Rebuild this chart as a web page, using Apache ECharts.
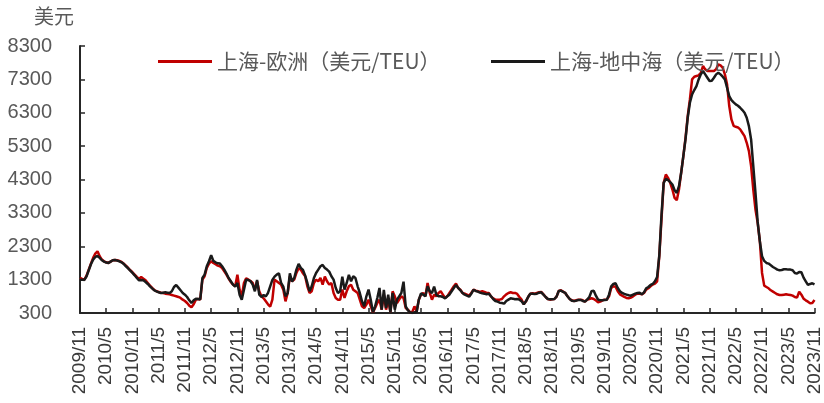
<!DOCTYPE html>
<html>
<head>
<meta charset="utf-8">
<script src="https://cdn.jsdelivr.net/npm/echarts@6/dist/echarts.min.js"></script>
<style>
  html, body { margin: 0; padding: 0; background: #fff; }
  #chart { width: 824px; height: 403px; }
</style>
</head>
<body>
<div id="chart"></div>
<script>
// Freight rates sampled every half month, starting 2009/11 (step = 0.5 month)
const STEP_MONTHS = 0.5;

const tickLabels = [
  '2009/11', '2010/5', '2010/11', '2011/5', '2011/11', '2012/5', '2012/11',
  '2013/5', '2013/11', '2014/5', '2014/11', '2015/5', '2015/11', '2016/5',
  '2016/11', '2017/5', '2017/11', '2018/5', '2018/11', '2019/5', '2019/11',
  '2020/5', '2020/11', '2021/5', '2021/11', '2022/5', '2022/11', '2023/5', '2023/11'
];

const seriesNames = ['上海-欧洲（美元/TEU）', '上海-地中海（美元/TEU）'];

// 上海-欧洲 (USD/TEU)
const shanghaiEurope = [
  1350,1320,1300,1420,1600,1780,1950,2080,2150,2000,1900,1850,
  1820,1800,1840,1880,1890,1880,1860,1830,1780,1720,1650,1580,
  1520,1450,1380,1320,1380,1330,1280,1200,1120,1050,990,950,
  930,910,900,880,870,860,840,820,800,780,750,700,
  660,600,520,470,560,700,720,700,1300,1400,1650,1780,
  1850,1800,1760,1720,1700,1650,1550,1450,1330,1230,1150,1100,
  1450,1000,800,1200,1340,1300,1260,1200,1000,1250,950,800,
  740,650,560,490,700,1300,1250,1200,1150,1000,650,900,
  1400,1250,1300,1500,1640,1600,1490,1400,1100,900,950,1200,
  1300,1250,1350,1150,1390,1250,1150,1200,900,750,700,700,
  1000,750,950,1100,1150,1000,950,900,700,500,450,550,
  700,500,320,450,600,700,400,850,400,700,330,950,
  800,600,700,800,750,450,400,320,330,500,350,700,
  850,900,800,1200,900,700,850,800,900,950,850,750,
  800,900,1000,1100,1180,1050,1000,900,880,850,820,900,
  1000,970,950,930,950,930,900,900,800,740,700,700,
  700,720,800,860,900,920,900,900,870,780,700,560,
  650,780,880,890,880,900,920,930,860,780,720,700,
  710,720,790,960,980,940,900,800,720,680,660,680,
  700,700,680,640,700,720,740,720,680,620,640,680,
  700,700,800,1050,1100,1090,950,860,820,780,750,740,
  760,800,850,880,880,860,900,1000,1040,1100,1150,1180,
  1250,2000,3100,4200,4450,4350,4200,4000,3750,3680,4000,4500,
  5000,5550,6200,6700,7300,7380,7400,7420,7500,7700,7600,7550,
  7550,7550,7550,7600,7750,7720,7650,7450,7150,6500,6100,5910,
  5880,5860,5800,5700,5600,5400,5150,4700,4000,3400,3000,2450,
  1500,1120,1080,1040,980,940,900,860,840,840,850,860,
  850,840,820,780,760,940,850,730,680,640,590,600,
  690
];

// 上海-地中海 (USD/TEU)
const shanghaiMed = [
  1300,1300,1290,1400,1580,1760,1900,1980,2010,1950,1880,1840,
  1810,1800,1840,1880,1890,1870,1850,1820,1770,1700,1640,1570,
  1500,1430,1350,1280,1290,1280,1230,1170,1100,1040,980,950,
  920,900,910,920,910,900,950,1080,1140,1060,980,900,
  850,780,680,600,680,730,720,710,1350,1450,1700,1850,
  2030,1860,1820,1790,1780,1700,1600,1480,1350,1250,1150,1090,
  1200,850,700,1000,1300,1290,1250,1150,950,1290,850,780,
  840,800,900,1100,1290,1390,1450,1490,1200,1090,800,900,
  1490,1240,1350,1600,1770,1650,1590,1420,1200,950,1100,1350,
  1500,1600,1700,1740,1650,1600,1540,1400,1300,1050,900,950,
  1390,1000,1200,1440,1250,1400,1350,1100,900,650,500,800,
  1000,700,320,500,750,1050,400,990,450,850,330,900,
  400,700,800,900,1240,500,380,320,300,320,330,700,
  890,850,800,1100,950,900,1090,850,800,800,780,740,
  800,850,950,1050,1140,1050,980,900,850,820,790,880,
  990,960,940,910,890,880,860,880,800,720,660,640,
  610,600,580,660,700,740,730,710,720,700,650,560,
  650,780,880,880,870,880,910,920,850,780,720,710,
  710,720,790,960,970,930,900,800,720,670,660,670,
  690,690,660,640,700,780,950,970,820,700,680,680,
  690,700,850,1100,1170,1190,1050,950,900,870,850,830,
  820,850,880,900,910,860,920,1040,1080,1140,1170,1250,
  1380,2030,3230,4200,4320,4280,4220,4150,3980,3900,4100,4500,
  5000,5510,6150,6600,6850,6980,7100,7300,7450,7550,7450,7350,
  7250,7260,7350,7450,7500,7450,7380,7300,7050,6800,6680,6610,
  6550,6510,6450,6380,6300,6150,5900,5500,4700,3900,3030,2450,
  2000,1860,1800,1780,1730,1680,1640,1600,1580,1590,1610,1610,
  1600,1600,1580,1500,1480,1530,1520,1360,1250,1140,1170,1190,
  1160
];

const toPairs = (vals) => vals.map((v, i) => [i * STEP_MONTHS, v]);

const axisColor = '#262626';
const labelFont = 'Liberation Sans, Arial, sans-serif';
const cjkFont = '"Noto Sans CJK SC", sans-serif';

const legendText = { fontFamily: cjkFont, fontSize: 21, color: '#595959' };

const chart = echarts.init(document.getElementById('chart'), null, { renderer: 'canvas' });

chart.setOption({
  animation: false,
  backgroundColor: '#ffffff',
  title: {
    text: '美元',
    left: 34,
    top: 6,
    padding: 0,
    textStyle: { fontFamily: cjkFont, fontSize: 20, fontWeight: 'normal', color: '#595959' }
  },
  legend: [
    {
      data: [seriesNames[0]],
      left: 158, top: 51, padding: 0,
      icon: 'rect', itemWidth: 54, itemHeight: 3, itemGap: 0,
      textStyle: legendText
    },
    {
      data: [seriesNames[1]],
      left: 491, top: 51, padding: 0,
      icon: 'rect', itemWidth: 54, itemHeight: 3, itemGap: 0,
      textStyle: legendText
    }
  ],
  grid: { left: 80, right: 8, top: 46, bottom: 90, containLabel: false },
  xAxis: {
    type: 'value',
    min: 0,
    max: (tickLabels.length - 1) * 6,
    interval: 6,
    axisLine: { lineStyle: { color: axisColor, width: 2 } },
    axisTick: { inside: true, length: 5, lineStyle: { color: axisColor, width: 1.5 } },
    splitLine: { show: false },
    axisLabel: {
      rotate: 90,
      margin: 14,
      fontFamily: labelFont,
      fontSize: 19,
      color: '#3a3a3a',
      showMinLabel: true,
      showMaxLabel: true,
      formatter: (v) => tickLabels[Math.round(v / 6)] || ''
    }
  },
  yAxis: {
    type: 'value',
    min: 300,
    max: 8300,
    interval: 1000,
    axisLine: { show: true, lineStyle: { color: axisColor, width: 2 } },
    axisTick: { show: true, inside: true, length: 5, lineStyle: { color: axisColor, width: 1.5 } },
    splitLine: { show: false },
    axisLabel: {
      margin: 28,
      fontFamily: labelFont,
      fontSize: 20,
      color: '#595959',
      formatter: (v) => String(v)
    }
  },
  series: [
    {
      name: seriesNames[0],
      type: 'line',
      data: toPairs(shanghaiEurope),
      showSymbol: false,
      symbol: 'none',
      itemStyle: { color: '#C00000' },
      lineStyle: { color: '#C00000', width: 2.5 },
      z: 2
    },
    {
      name: seriesNames[1],
      type: 'line',
      data: toPairs(shanghaiMed),
      showSymbol: false,
      symbol: 'none',
      itemStyle: { color: '#1a1a1a' },
      lineStyle: { color: '#1a1a1a', width: 2.5 },
      z: 3
    }
  ]
});
</script>
</body>
</html>
